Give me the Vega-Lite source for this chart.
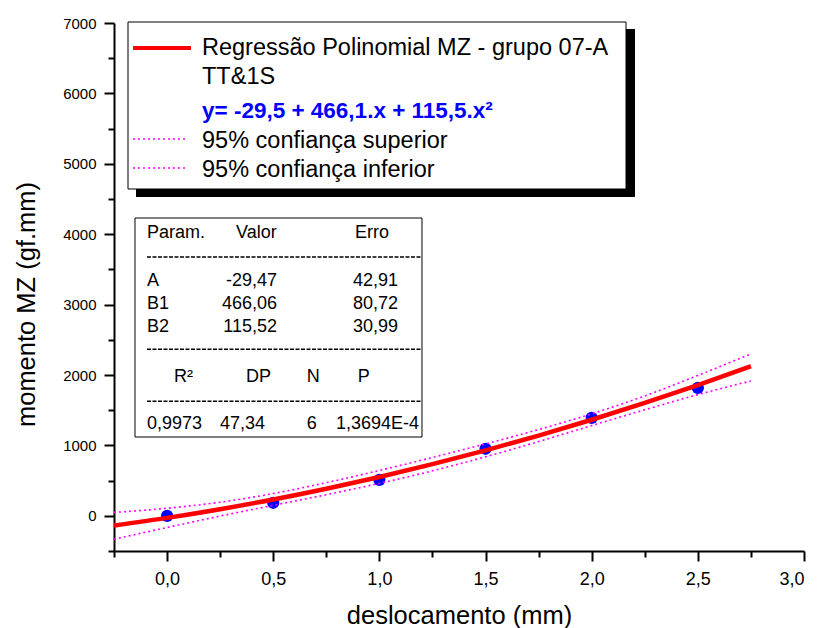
{
  "$schema": "https://vega.github.io/schema/vega-lite/v6.json",
  "width": 690,
  "height": 528,
  "autosize": {"type": "none"},
  "padding": {"left": 114, "top": 23, "right": 17, "bottom": 77},
  "background": "white",
  "config": {
    "view": {"stroke": null},
    "font": "Liberation Sans",
    "axis": {
      "grid": false,
      "domainColor": "black",
      "domainWidth": 2,
      "tickColor": "black",
      "tickWidth": 2,
      "labelFont": "Liberation Sans",
      "labelColor": "black",
      "titleFont": "Liberation Sans",
      "titleFontSize": 25.5,
      "titleFontWeight": "normal",
      "titleColor": "black"
    }
  },
  "datasets": {
    "points": [
      {"x": 0, "y": 0},
      {"x": 0.5, "y": 185},
      {"x": 1.0, "y": 511},
      {"x": 1.5, "y": 952},
      {"x": 2.0, "y": 1392},
      {"x": 2.5, "y": 1818}
    ],
    "fit": [
      {"x": -0.25, "y": -138.8, "lo": -333.5, "hi": 48},
      {"x": 0, "y": -29.5, "lo": -166.0, "hi": 107.0},
      {"x": 0.25, "y": 94.3, "lo": -4.1, "hi": 192.7},
      {"x": 0.5, "y": 232.4, "lo": 148.9, "hi": 315.9},
      {"x": 0.75, "y": 385.1, "lo": 299.6, "hi": 470.6},
      {"x": 1.0, "y": 552.1, "lo": 460.3, "hi": 643.9},
      {"x": 1.25, "y": 733.6, "lo": 639.0, "hi": 828.2},
      {"x": 1.5, "y": 929.5, "lo": 837.7, "hi": 1021.3},
      {"x": 1.75, "y": 1139.9, "lo": 1054.4, "hi": 1225.4},
      {"x": 2.0, "y": 1364.7, "lo": 1281.2, "hi": 1448.2},
      {"x": 2.25, "y": 1604.0, "lo": 1505.6, "hi": 1702.4},
      {"x": 2.5, "y": 1857.7, "lo": 1721.2, "hi": 1994.2},
      {"x": 2.75, "y": 2125.8, "lo": 1915, "hi": 2300}
    ],
    "legendRed": [{"x": -0.1605, "x2": 0.1127, "y": 6645}],
    "legendDot": [
      {"x": -0.1605, "x2": 0.0938, "y": 5352},
      {"x": -0.1605, "x2": 0.0938, "y": 4940}
    ],
    "legendShadow": [{"x": -0.1464, "x2": 2.204, "y": 6915, "y2": 4528}],
    "legendBox": [{"x": -0.184, "x2": 2.1616, "y": 7014, "y2": 4642}],
    "legendText": [
      {"x": 0.1645, "y": 6545, "t": "Regressão Polinomial MZ - grupo 07-A"},
      {"x": 0.1645, "y": 6133, "t": "TT&1S"},
      {"x": 0.1645, "y": 5224, "t": "95% confiança superior"},
      {"x": 0.1645, "y": 4812, "t": "95% confiança inferior"}
    ],
    "equation": [{"x": 0.1645, "y": 5650, "t": "y= -29,5 + 466,1.x + 115,5.x²"}],
    "tableBox": [{"x": -0.1511, "x2": 1.2007, "y": 4230, "y2": 1119}],
    "tableDash": [
      {"x": -0.0946, "x2": 1.2007, "y": 3676},
      {"x": -0.0946, "x2": 1.2007, "y": 2365},
      {"x": -0.0946, "x2": 1.2007, "y": 1626}
    ],
    "tableLeft": [
      {"x": -0.0946, "y": 3942, "t": "Param."},
      {"x": 0.3246, "y": 3942, "t": "Valor"},
      {"x": 0.8852, "y": 3942, "t": "Erro"},
      {"x": -0.0946, "y": 3264, "t": "A"},
      {"x": -0.0946, "y": 2933, "t": "B1"},
      {"x": -0.0946, "y": 2615, "t": "B2"},
      {"x": 0.0326, "y": 1905, "t": "R²"},
      {"x": 0.3717, "y": 1905, "t": "DP"},
      {"x": 0.6576, "y": 1905, "t": "N"},
      {"x": 0.8978, "y": 1905, "t": "P"},
      {"x": -0.0946, "y": 1229, "t": "0,9973"},
      {"x": 0.2493, "y": 1229, "t": "47,34"},
      {"x": 0.6576, "y": 1229, "t": "6"}
    ],
    "tableRight": [
      {"x": 0.5178, "y": 3264, "t": "-29,47"},
      {"x": 1.0877, "y": 3264, "t": "42,91"},
      {"x": 0.5178, "y": 2933, "t": "466,06"},
      {"x": 1.0877, "y": 2933, "t": "80,72"},
      {"x": 0.5178, "y": 2615, "t": "115,52"},
      {"x": 1.0877, "y": 2615, "t": "30,99"},
      {"x": 1.1866, "y": 1229, "t": "1,3694E-4"}
    ]
  },
  "resolve": {"axis": {"x": "independent", "y": "independent"}},
  "layer": [
    {
      "data": {"name": "points"},
      "mark": {"type": "point", "filled": true, "shape": "circle", "size": 150, "color": "#0000FF", "opacity": 1},
      "encoding": {
        "x": {
          "field": "x", "type": "quantitative",
          "scale": {"domain": [-0.25, 3], "nice": false, "zero": false},
          "axis": {
            "orient": "bottom",
            "values": [0, 0.5, 1, 1.5, 2, 2.5, 3],
            "tickSize": 10,
            "labelPadding": 9,
            "labelFontSize": 18,
            "labelFont": "Liberation Sans",
            "labelExpr": "replace(format(datum.value, '.1f'), '.', ',')",
            "title": "deslocamento (mm)",
            "titleFont": "Liberation Sans",
            "titlePadding": 15
          }
        },
        "y": {
          "field": "y", "type": "quantitative",
          "scale": {"domain": [-500, 7000], "nice": false, "zero": false},
          "axis": {
            "orient": "left",
            "values": [0, 1000, 2000, 3000, 4000, 5000, 6000, 7000],
            "tickSize": 10,
            "labelPadding": 8,
            "labelFontSize": 15,
            "labelFont": "Liberation Sans",
            "format": "d",
            "title": "momento MZ (gf.mm)",
            "titleFont": "Liberation Sans",
            "titlePadding": 23,
            "titleY": 281
          }
        }
      }
    },
    {
      "data": {"name": "fit"},
      "mark": {"type": "line", "color": "#FF00FF", "strokeWidth": 1.6, "strokeDash": [2, 3], "interpolate": "monotone"},
      "encoding": {
        "x": {
          "field": "x", "type": "quantitative",
          "axis": {
            "orient": "bottom",
            "values": [-0.25, 0.25, 0.75, 1.25, 1.75, 2.25, 2.75],
            "tickSize": 6,
            "labels": false,
            "domain": false,
            "title": null
          }
        },
        "y": {
          "field": "hi", "type": "quantitative",
          "axis": {
            "orient": "left",
            "values": [-500, 500, 1500, 2500, 3500, 4500, 5500, 6500],
            "tickSize": 6,
            "labels": false,
            "domain": false,
            "title": null
          }
        }
      }
    },
    {
      "data": {"name": "fit"},
      "mark": {"type": "line", "color": "#FF00FF", "strokeWidth": 1.6, "strokeDash": [2, 3], "interpolate": "monotone"},
      "encoding": {
        "x": {"field": "x", "type": "quantitative", "axis": null},
        "y": {"field": "lo", "type": "quantitative", "axis": null}
      }
    },
    {
      "data": {"name": "fit"},
      "mark": {"type": "line", "color": "#FF0000", "strokeWidth": 4.5, "interpolate": "monotone"},
      "encoding": {
        "x": {"field": "x", "type": "quantitative", "axis": null},
        "y": {"field": "y", "type": "quantitative", "axis": null}
      }
    },
    {
      "data": {"name": "legendShadow"},
      "mark": {"type": "rect", "color": "black"},
      "encoding": {
        "x": {"field": "x", "type": "quantitative", "axis": null},
        "x2": {"field": "x2"},
        "y": {"field": "y", "type": "quantitative", "axis": null},
        "y2": {"field": "y2"}
      }
    },
    {
      "data": {"name": "legendBox"},
      "mark": {"type": "rect", "fill": "white", "stroke": "black", "strokeWidth": 1},
      "encoding": {
        "x": {"field": "x", "type": "quantitative", "axis": null},
        "x2": {"field": "x2"},
        "y": {"field": "y", "type": "quantitative", "axis": null},
        "y2": {"field": "y2"}
      }
    },
    {
      "data": {"name": "legendRed"},
      "mark": {"type": "rule", "color": "#FF0000", "strokeWidth": 4},
      "encoding": {
        "x": {"field": "x", "type": "quantitative", "axis": null},
        "x2": {"field": "x2"},
        "y": {"field": "y", "type": "quantitative", "axis": null}
      }
    },
    {
      "data": {"name": "legendDot"},
      "mark": {"type": "rule", "color": "#FF00FF", "strokeWidth": 1.6, "strokeDash": [2, 3]},
      "encoding": {
        "x": {"field": "x", "type": "quantitative", "axis": null},
        "x2": {"field": "x2"},
        "y": {"field": "y", "type": "quantitative", "axis": null}
      }
    },
    {
      "data": {"name": "legendText"},
      "mark": {"type": "text", "align": "left", "baseline": "alphabetic", "fontSize": 23.5, "color": "black", "font": "Liberation Sans"},
      "encoding": {
        "x": {"field": "x", "type": "quantitative", "axis": null},
        "y": {"field": "y", "type": "quantitative", "axis": null},
        "text": {"field": "t"}
      }
    },
    {
      "data": {"name": "equation"},
      "mark": {"type": "text", "align": "left", "baseline": "alphabetic", "fontSize": 22.5, "fontWeight": "bold", "color": "#0000FF", "font": "Liberation Sans"},
      "encoding": {
        "x": {"field": "x", "type": "quantitative", "axis": null},
        "y": {"field": "y", "type": "quantitative", "axis": null},
        "text": {"field": "t"}
      }
    },
    {
      "data": {"name": "tableBox"},
      "mark": {"type": "rect", "fill": "white", "stroke": "black", "strokeWidth": 1},
      "encoding": {
        "x": {"field": "x", "type": "quantitative", "axis": null},
        "x2": {"field": "x2"},
        "y": {"field": "y", "type": "quantitative", "axis": null},
        "y2": {"field": "y2"}
      }
    },
    {
      "data": {"name": "tableDash"},
      "mark": {"type": "rule", "color": "black", "strokeWidth": 1.5, "strokeDash": [4, 1.5]},
      "encoding": {
        "x": {"field": "x", "type": "quantitative", "axis": null},
        "x2": {"field": "x2"},
        "y": {"field": "y", "type": "quantitative", "axis": null}
      }
    },
    {
      "data": {"name": "tableLeft"},
      "mark": {"type": "text", "align": "left", "baseline": "alphabetic", "fontSize": 18, "color": "black", "font": "Liberation Sans"},
      "encoding": {
        "x": {"field": "x", "type": "quantitative", "axis": null},
        "y": {"field": "y", "type": "quantitative", "axis": null},
        "text": {"field": "t"}
      }
    },
    {
      "data": {"name": "tableRight"},
      "mark": {"type": "text", "align": "right", "baseline": "alphabetic", "fontSize": 18, "color": "black", "font": "Liberation Sans"},
      "encoding": {
        "x": {"field": "x", "type": "quantitative", "axis": null},
        "y": {"field": "y", "type": "quantitative", "axis": null},
        "text": {"field": "t"}
      }
    }
  ]
}
